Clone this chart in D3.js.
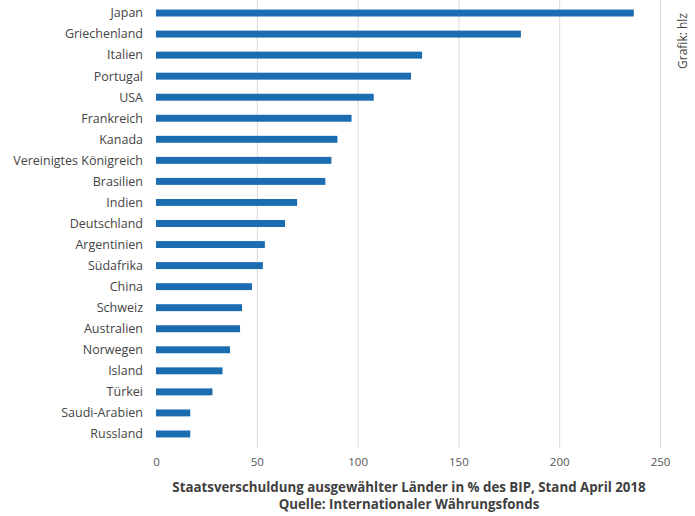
<!DOCTYPE html>
<html>
<head>
<meta charset="utf-8">
<script src="https://cdn.jsdelivr.net/npm/d3@7"></script>
<style>
  body { margin: 0; background: #fff; }
  svg { display: block; font-family: "Open Sans", Lato, sans-serif; }
</style>
</head>
<body>
<div id="chart"></div>
<script>
// Staatsverschuldung in % des BIP
const countries = ['Japan', 'Griechenland', 'Italien', 'Portugal', 'USA', 'Frankreich', 'Kanada',
  'Vereinigtes Königreich', 'Brasilien', 'Indien', 'Deutschland', 'Argentinien', 'Südafrika',
  'China', 'Schweiz', 'Australien', 'Norwegen', 'Island', 'Türkei', 'Saudi-Arabien', 'Russland'];
const debt = [237, 181, 132, 126.5, 108, 97, 90, 87, 84, 70, 64, 54, 53, 47.6, 42.7, 41.7, 36.7, 33, 28, 17, 17];
const xTicks = [0, 50, 100, 150, 200, 250];
const titleLines = ['Staatsverschuldung ausgewählter Länder in % des BIP, Stand April 2018',
  'Quelle: Internationaler Währungsfonds'];
const credit = 'Grafik: hlz';

const width = 695, height = 516;
const svg = d3.select('#chart').append('svg')
  .attr('width', width)
  .attr('height', height);

const x = d3.scaleLinear().domain([0, 250]).range([156, 660]);
const y = d3.scaleBand()
  .domain(countries)
  .range([2.5, 444.5])
  .paddingInner(0.67)
  .paddingOuter(0.335);

// gridlines
svg.append('g')
  .selectAll('line')
  .data(xTicks.filter(d => d > 0))
  .join('line')
  .attr('x1', d => x(d) + 0.5)
  .attr('x2', d => x(d) + 0.5)
  .attr('y1', 0)
  .attr('y2', 448)
  .attr('stroke', '#d9d9d9')
  .attr('stroke-width', 1);

// bars
svg.append('g')
  .selectAll('rect')
  .data(countries)
  .join('rect')
  .attr('x', x(0))
  .attr('y', d => y(d))
  .attr('width', (d, i) => x(debt[i]) - x(0))
  .attr('height', y.bandwidth())
  .attr('fill', '#1c6cb1');

// category labels
svg.append('g')
  .selectAll('text')
  .data(countries)
  .join('text')
  .attr('x', 143)
  .attr('y', d => y(d) + y.bandwidth() / 2)
  .attr('dy', '0.35em')
  .attr('text-anchor', 'end')
  .attr('font-size', 12.5)
  .attr('fill', '#444')
  .text(d => d);

// x axis labels
const xAxis = d3.axisBottom(x).tickValues(xTicks).tickSize(0).tickPadding(0);
svg.append('g')
  .attr('transform', 'translate(0,458)')
  .call(xAxis)
  .call(g => g.select('.domain').remove())
  .call(g => g.selectAll('text')
    .attr('font-family', '"Open Sans", Lato, sans-serif')
    .attr('font-size', 11.5)
    .attr('fill', '#555'));

// title
svg.append('g')
  .selectAll('text')
  .data(titleLines)
  .join('text')
  .attr('x', 409)
  .attr('y', (d, i) => 492 + i * 17)
  .attr('text-anchor', 'middle')
  .attr('font-size', 13.3)
  .attr('font-weight', 'bold')
  .attr('fill', '#404040')
  .text(d => d);

// credit
svg.append('text')
  .attr('transform', 'translate(687,41) rotate(-90)')
  .attr('text-anchor', 'middle')
  .attr('font-size', 12)
  .attr('fill', '#444')
  .text(credit);
</script>
</body>
</html>
